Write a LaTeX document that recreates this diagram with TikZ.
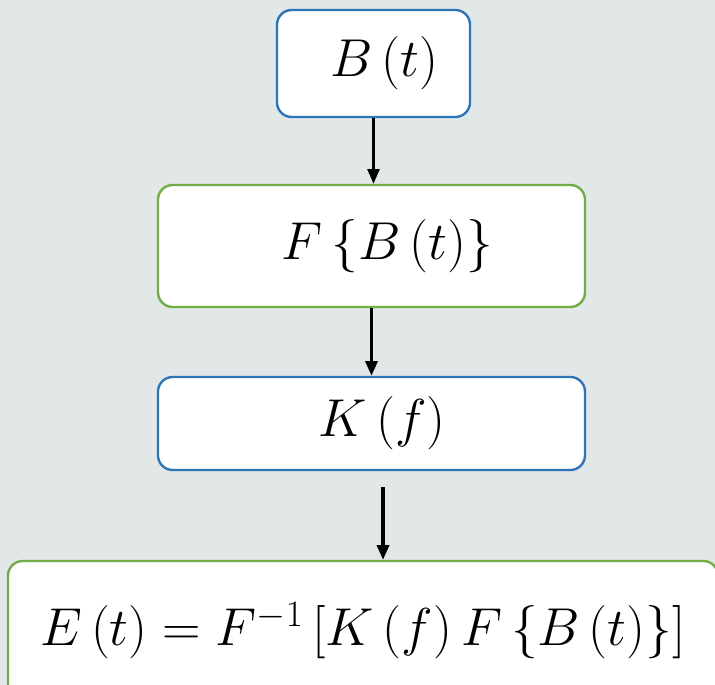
\RequirePackage{fix-cm}
\documentclass[tikz,border=0pt]{standalone}
\usepackage{amsmath}
\usepackage{tikz}
\usetikzlibrary{arrows.meta}
\definecolor{boxblue}{RGB}{46,117,182}
\definecolor{boxgreen}{RGB}{112,173,71}
\definecolor{bggray}{RGB}{226,231,232}

\begin{document}
\begin{tikzpicture}[x=0.75pt,y=-0.75pt,
  box/.style={draw=#1,fill=white,text=black,line width=1.8pt,rounded corners=11pt,
    inner sep=0pt,font=\fontsize{40}{48}\selectfont},
  flow/.style={line width=2.4pt,-{Triangle[width=9pt,length=11pt]}}]
\useasboundingbox (0,0) rectangle (715,685);
\clip (0,0) rectangle (715,685);
\fill[bggray] (0,0) rectangle (715,685);
% boxes
\node[box=boxblue,minimum width=144.75pt,minimum height=80.25pt] (bt) at (373.5,63.5)
  {\hspace*{16pt}$B\left(t\right)$};
\node[box=boxgreen,minimum width=320.25pt,minimum height=91.5pt] (fb) at (371.5,246)
  {\hspace*{24pt}$F\left\{B\left(t\right)\right\}$};
\node[box=boxblue,minimum width=320.25pt,minimum height=69.75pt] (kf) at (371.5,423.5)
  {\hspace*{16pt}$K\left(f\right)$};
\node[box=boxgreen,minimum width=532.5pt,minimum height=104.25pt] (et) at (363,630.5)
  {$E\left(t\right)=F^{-1}\left[K\left(f\right)F\left\{B\left(t\right)\right\}\right]$};
% arrows
\coordinate (gap) at (383,487);
\draw[flow,line width=1.8pt] (bt.south) -- (bt.south |- fb.north);
\draw[flow] (fb.south) -- (kf.north);
\draw[flow] (gap) -- (gap |- et.north);
\end{tikzpicture}
\end{document}
